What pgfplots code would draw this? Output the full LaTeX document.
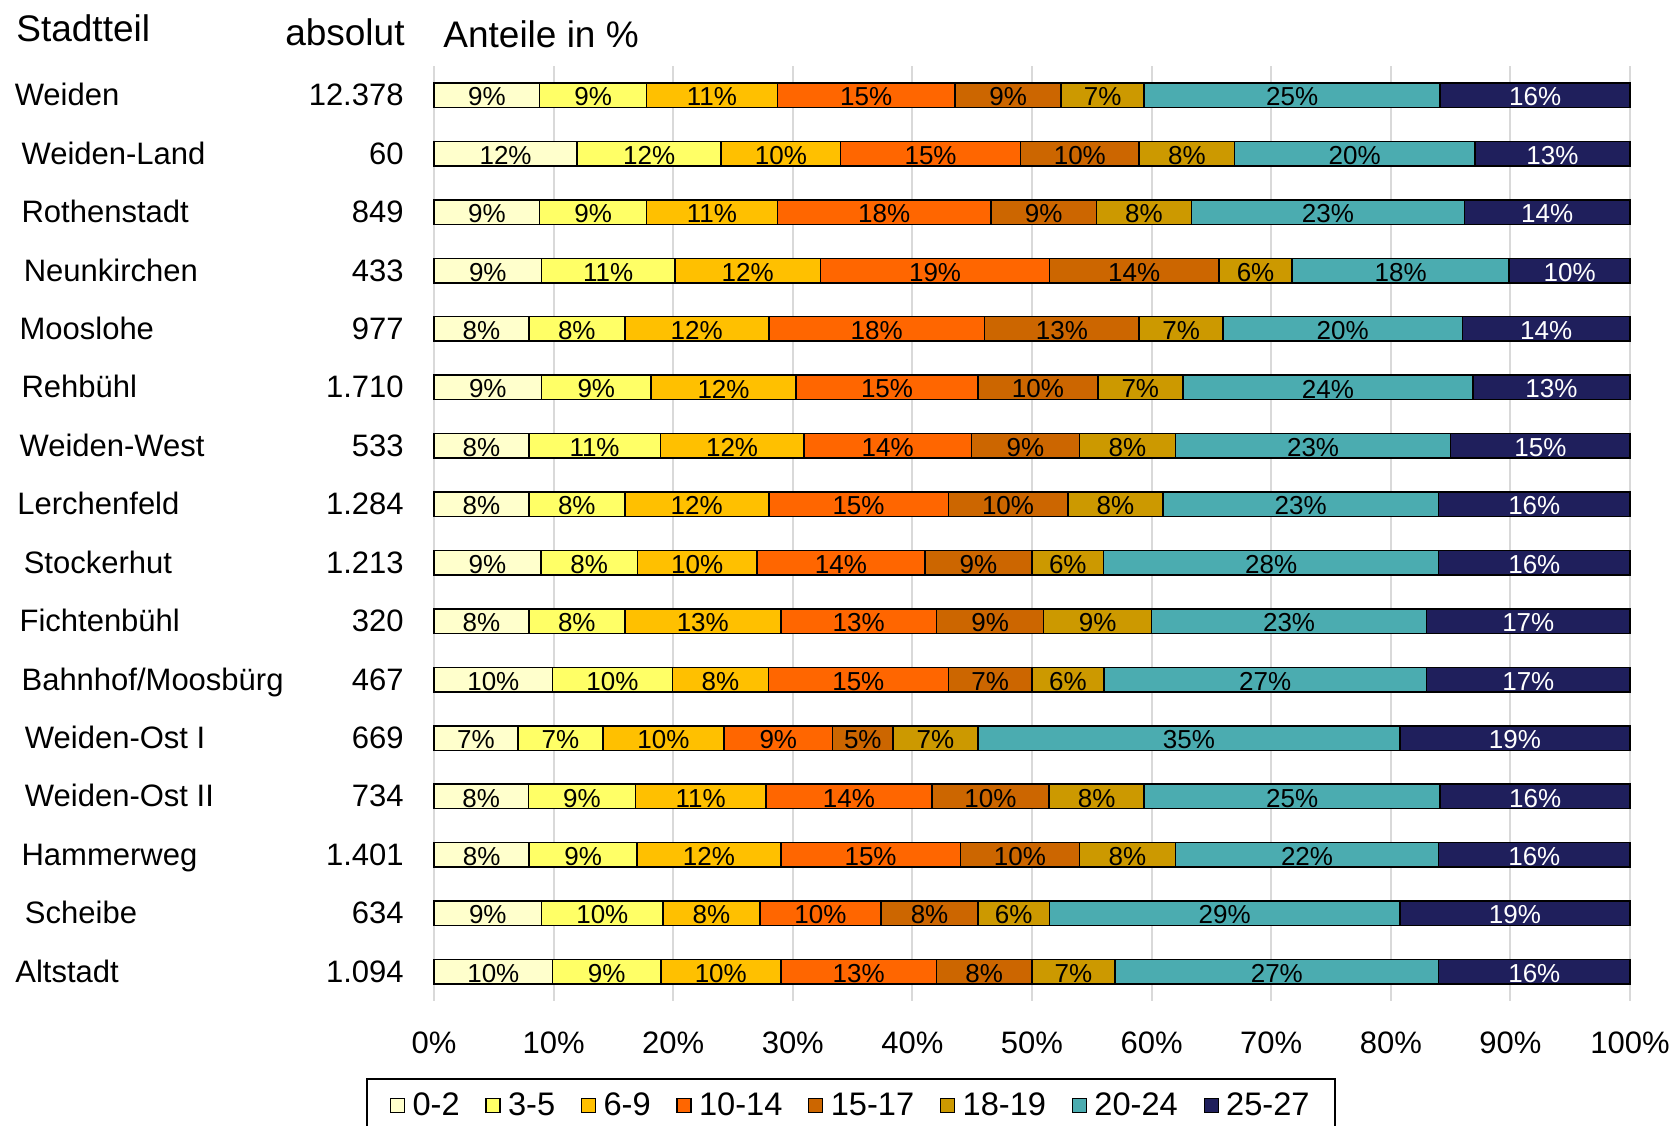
\documentclass[border=0pt]{standalone}
\usepackage{pgfplots}
\pgfplotsset{compat=1.18}
\usepackage{pgfplotstable}
\usepackage{fontspec}
\setmainfont{Liberation Sans}
\definecolor{c1}{HTML}{FFFFCC}
\definecolor{c2}{HTML}{FFFF66}
\definecolor{c3}{HTML}{FFC000}
\definecolor{c4}{HTML}{FF6600}
\definecolor{c5}{HTML}{CC6600}
\definecolor{c6}{HTML}{CC9900}
\definecolor{c7}{HTML}{4BACB0}
\definecolor{c8}{HTML}{1F1F5C}
\definecolor{gridgray}{HTML}{D9D9D9}
\newcommand\lab{\fontsize{15.5}{18}\selectfont}
\newcommand\leg{\fontsize{16.3}{19}\selectfont}
\newcommand\hdr{\fontsize{18.5}{22}\selectfont}
\newcommand\bl{\fontsize{13}{15}\selectfont}
\pgfplotstableread{
idx a b c d e f g h
0 8.84 8.94 10.93 14.85 8.88 6.94 24.75 15.87
1 11.97 12.04 9.99 15.04 9.92 7.98 20.09 12.97
2 8.84 8.94 10.93 17.85 8.84 7.93 22.82 13.85
3 9.00 11.13 12.20 19.13 14.18 6.10 18.16 10.10
4 7.93 8.02 12.04 18.05 12.92 7.01 20.02 14.01
5 9.00 9.14 12.14 15.20 10.02 7.11 24.26 13.13
6 7.93 10.99 12.01 14.00 9.04 8.02 23.02 14.99
7 7.93 8.02 12.04 15.01 9.99 7.96 23.04 16.01
8 8.94 8.06 10.01 14.03 8.96 5.99 28.01 16.00
9 7.93 8.02 13.05 13.02 8.95 9.03 22.99 17.01
10 9.92 10.01 8.03 15.04 7.00 6.00 27.00 17.00
11 7.01 7.12 10.11 9.10 5.03 7.11 35.29 19.23
12 7.90 8.94 10.90 13.90 9.78 7.96 24.75 15.87
13 7.96 9.01 12.03 15.01 9.96 8.02 22.01 16.00
14 9.00 10.15 8.09 10.15 8.09 5.98 29.31 19.23
15 9.92 9.04 10.04 13.02 7.98 6.94 27.06 16.00
}\data
\begin{document}
\begin{tikzpicture}
\begin{axis}[
  width=598pt, height=467.5pt, scale only axis,
  xbar stacked, bar width=12.25pt,
  xmin=0, xmax=100, ymin=-0.5, ymax=15.5, y dir=reverse,
  clip=false,
  axis line style={draw=none},
  ytick=\empty,
  xtick={0,10,...,100},
  xticklabels={0\%,10\%,20\%,30\%,40\%,50\%,60\%,70\%,80\%,90\%,100\%},
  /pgf/number format/assume math mode=true,
  xticklabel style={font=\lab, anchor=base, yshift=-26pt},
  major tick length=0pt,
  xmajorgrids, grid style={draw=gridgray, line width=1pt},
  legend image code/.code={\draw[#1, line width=0.6pt] (0pt,-3.5pt) rectangle (7pt,3.5pt);},
  legend columns=8,
  legend style={at={(axis description cs:-0.0569,-0.0824)}, anchor=north west, draw=black, line width=1pt, font=\leg, inner xsep=11.5pt, inner ysep=6.75pt, nodes={inner xsep=1pt, inner ysep=0pt},
    /tikz/every odd column/.append style={column sep=2.7pt},
    /tikz/every even column/.append style={column sep=11.9pt}},
]
\addplot[fill=c1, draw=black, line width=0.75pt] table[x=a, y=idx] {\data}; \addlegendentry{0-2}
\addplot[fill=c2, draw=black, line width=0.75pt] table[x=b, y=idx] {\data}; \addlegendentry{3-5}
\addplot[fill=c3, draw=black, line width=0.75pt] table[x=c, y=idx] {\data}; \addlegendentry{6-9}
\addplot[fill=c4, draw=black, line width=0.75pt] table[x=d, y=idx] {\data}; \addlegendentry{10-14}
\addplot[fill=c5, draw=black, line width=0.75pt] table[x=e, y=idx] {\data}; \addlegendentry{15-17}
\addplot[fill=c6, draw=black, line width=0.75pt] table[x=f, y=idx] {\data}; \addlegendentry{18-19}
\addplot[fill=c7, draw=black, line width=0.75pt] table[x=g, y=idx] {\data}; \addlegendentry{20-24}
\addplot[fill=c8, draw=black, line width=0.75pt] table[x=h, y=idx] {\data}; \addlegendentry{25-27}
% headers
\node[font=\hdr, anchor=base west, inner sep=0pt, xshift=-209pt, yshift=12.5pt] at (axis cs:0,-0.5) {Stadtteil};
\node[font=\hdr, anchor=base east, inner sep=0pt, xshift=-14.5pt, yshift=10.5pt] at (axis cs:0,-0.5) {absolut};
\node[font=\hdr, anchor=base west, inner sep=0pt, xshift=4.5pt, yshift=9.5pt] at (axis cs:0,-0.5) {Anteile in \%};
% district names
\node[font=\lab, anchor=base west, inner sep=0pt, xshift=-209.8pt, yshift=-5.25pt] at (axis cs:0,0) {Weiden};
\node[font=\lab, anchor=base west, inner sep=0pt, xshift=-206.4pt, yshift=-5.25pt] at (axis cs:0,1) {Weiden-Land};
\node[font=\lab, anchor=base west, inner sep=0pt, xshift=-206.4pt, yshift=-5.25pt] at (axis cs:0,2) {Rothenstadt};
\node[font=\lab, anchor=base west, inner sep=0pt, xshift=-205.3pt, yshift=-5.25pt] at (axis cs:0,3) {Neunkirchen};
\node[font=\lab, anchor=base west, inner sep=0pt, xshift=-207.4pt, yshift=-5.25pt] at (axis cs:0,4) {Mooslohe};
\node[font=\lab, anchor=base west, inner sep=0pt, xshift=-206.4pt, yshift=-5.25pt] at (axis cs:0,5) {Rehbühl};
\node[font=\lab, anchor=base west, inner sep=0pt, xshift=-207.4pt, yshift=-5.25pt] at (axis cs:0,6) {Weiden-West};
\node[font=\lab, anchor=base west, inner sep=0pt, xshift=-208.5pt, yshift=-5.25pt] at (axis cs:0,7) {Lerchenfeld};
\node[font=\lab, anchor=base west, inner sep=0pt, xshift=-205.3pt, yshift=-5.25pt] at (axis cs:0,8) {Stockerhut};
\node[font=\lab, anchor=base west, inner sep=0pt, xshift=-207.4pt, yshift=-5.25pt] at (axis cs:0,9) {Fichtenbühl};
\node[font=\lab, anchor=base west, inner sep=0pt, xshift=-206.4pt, yshift=-5.25pt] at (axis cs:0,10) {Bahnhof/Moosbürg};
\node[font=\lab, anchor=base west, inner sep=0pt, xshift=-204.7pt, yshift=-5.25pt] at (axis cs:0,11) {Weiden-Ost I};
\node[font=\lab, anchor=base west, inner sep=0pt, xshift=-204.7pt, yshift=-5.25pt] at (axis cs:0,12) {Weiden-Ost II};
\node[font=\lab, anchor=base west, inner sep=0pt, xshift=-206.4pt, yshift=-5.25pt] at (axis cs:0,13) {Hammerweg};
\node[font=\lab, anchor=base west, inner sep=0pt, xshift=-204.7pt, yshift=-5.25pt] at (axis cs:0,14) {Scheibe};
\node[font=\lab, anchor=base west, inner sep=0pt, xshift=-209.5pt, yshift=-5.25pt] at (axis cs:0,15) {Altstadt};
% absolute numbers
\node[font=\lab, anchor=base east, inner sep=0pt, xshift=-15pt, yshift=-5.25pt] at (axis cs:0,0) {12.378};
\node[font=\lab, anchor=base east, inner sep=0pt, xshift=-15pt, yshift=-5.25pt] at (axis cs:0,1) {60};
\node[font=\lab, anchor=base east, inner sep=0pt, xshift=-15pt, yshift=-5.25pt] at (axis cs:0,2) {849};
\node[font=\lab, anchor=base east, inner sep=0pt, xshift=-15pt, yshift=-5.25pt] at (axis cs:0,3) {433};
\node[font=\lab, anchor=base east, inner sep=0pt, xshift=-15pt, yshift=-5.25pt] at (axis cs:0,4) {977};
\node[font=\lab, anchor=base east, inner sep=0pt, xshift=-15pt, yshift=-5.25pt] at (axis cs:0,5) {1.710};
\node[font=\lab, anchor=base east, inner sep=0pt, xshift=-15pt, yshift=-5.25pt] at (axis cs:0,6) {533};
\node[font=\lab, anchor=base east, inner sep=0pt, xshift=-15pt, yshift=-5.25pt] at (axis cs:0,7) {1.284};
\node[font=\lab, anchor=base east, inner sep=0pt, xshift=-15pt, yshift=-5.25pt] at (axis cs:0,8) {1.213};
\node[font=\lab, anchor=base east, inner sep=0pt, xshift=-15pt, yshift=-5.25pt] at (axis cs:0,9) {320};
\node[font=\lab, anchor=base east, inner sep=0pt, xshift=-15pt, yshift=-5.25pt] at (axis cs:0,10) {467};
\node[font=\lab, anchor=base east, inner sep=0pt, xshift=-15pt, yshift=-5.25pt] at (axis cs:0,11) {669};
\node[font=\lab, anchor=base east, inner sep=0pt, xshift=-15pt, yshift=-5.25pt] at (axis cs:0,12) {734};
\node[font=\lab, anchor=base east, inner sep=0pt, xshift=-15pt, yshift=-5.25pt] at (axis cs:0,13) {1.401};
\node[font=\lab, anchor=base east, inner sep=0pt, xshift=-15pt, yshift=-5.25pt] at (axis cs:0,14) {634};
\node[font=\lab, anchor=base east, inner sep=0pt, xshift=-15pt, yshift=-5.25pt] at (axis cs:0,15) {1.094};
\end{axis}
\begin{axis}[
  width=598pt, height=467.5pt, scale only axis, hide axis,
  xmin=0, xmax=100, ymin=-0.5, ymax=15.5, y dir=reverse, clip=false,
  /pgf/number format/assume math mode=true,
  point meta=explicit,
  nodes near coords={\pgfmathprintnumber[fixed,precision=0,assume math mode=true]{\pgfplotspointmeta}\%},
  every node near coord/.append style={font=\bl, anchor=center, inner sep=0pt, yshift=-0.8pt},
]
\addplot[draw=none] table[x expr=\thisrow{a}/2, y=idx, meta=a] {\data};
\addplot[draw=none] table[x expr=\thisrow{a}+\thisrow{b}/2, y=idx, meta=b] {\data};
\addplot[draw=none] table[x expr=\thisrow{a}+\thisrow{b}+\thisrow{c}/2, y=idx, meta=c] {\data};
\addplot[draw=none] table[x expr=\thisrow{a}+\thisrow{b}+\thisrow{c}+\thisrow{d}/2, y=idx, meta=d] {\data};
\addplot[draw=none] table[x expr=\thisrow{a}+\thisrow{b}+\thisrow{c}+\thisrow{d}+\thisrow{e}/2, y=idx, meta=e] {\data};
\addplot[draw=none] table[x expr=\thisrow{a}+\thisrow{b}+\thisrow{c}+\thisrow{d}+\thisrow{e}+\thisrow{f}/2, y=idx, meta=f] {\data};
\addplot[draw=none] table[x expr=\thisrow{a}+\thisrow{b}+\thisrow{c}+\thisrow{d}+\thisrow{e}+\thisrow{f}+\thisrow{g}/2, y=idx, meta=g] {\data};
\addplot[draw=none, every node near coord/.append style={text=white}] table[x expr=100-\thisrow{h}/2, y=idx, meta=h] {\data};
\end{axis}
\pgfresetboundingbox
\path[use as bounding box] (0,0) ++(-217pt,-62pt) rectangle ++(835pt,562.5pt);
\end{tikzpicture}
\end{document}
